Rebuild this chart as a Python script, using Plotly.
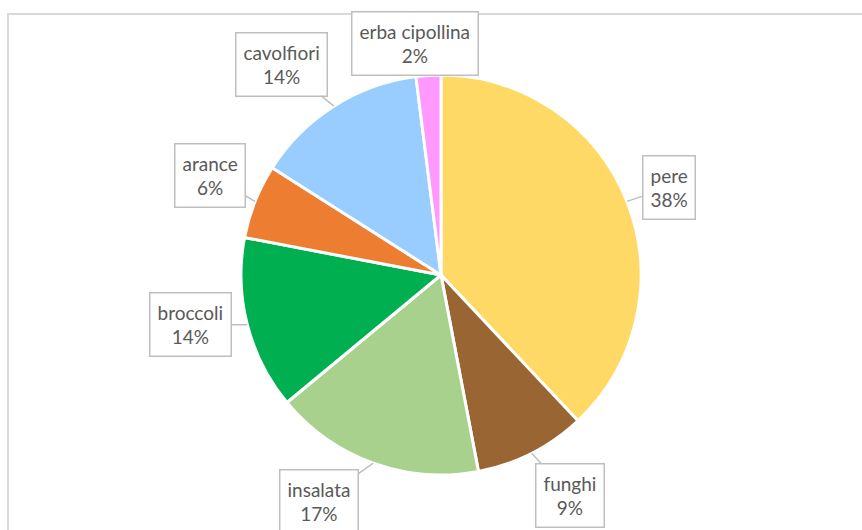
import math
import plotly.graph_objects as go

# Slice data (clockwise from 12 o'clock)
categories = ["pere", "funghi", "insalata", "broccoli", "arance", "cavolfiori", "erba cipollina"]
values = [38, 9, 17, 14, 6, 14, 2]
colors = ["#FFD966", "#996633", "#A9D18E", "#00B050", "#ED7D31", "#99CCFF", "#FF99FF"]

W, H = 862, 530
CX, CY, R = 441, 275, 200  # pie centre and radius in pixels

# Callout box offsets (pixels) from the slice edge point
offsets = {
    "pere": (42, -14),
    "funghi": (38, 42),
    "insalata": (-54, 38),
    "broccoli": (-57, 0),
    "arance": (-45, -26),
    "cavolfiori": (-52, -42),
    "erba cipollina": (-13, -32),
}

fig = go.Figure(
    go.Pie(
        labels=categories,
        values=values,
        sort=False,
        direction="clockwise",
        rotation=0,
        marker=dict(colors=colors, line=dict(color="white", width=3)),
        textinfo="none",
        hoverinfo="label+percent",
        showlegend=False,
        domain=dict(
            x=[(CX - R) / W, (CX + R) / W],
            y=[1 - (CY + R) / H, 1 - (CY - R) / H],
        ),
    )
)

total = sum(values)
annotations = []
cum = 0.0
for name, v in zip(categories, values):
    mid = (cum + v / 2) / total * 2 * math.pi
    cum += v
    px = CX + R * math.sin(mid)
    py = CY - R * math.cos(mid)
    ax, ay = offsets[name]
    pct = round(v / total * 100)
    annotations.append(
        dict(
            x=px / W,
            y=1 - py / H,
            xref="paper",
            yref="paper",
            text=f"{name}<br>{pct}%",
            showarrow=True,
            arrowhead=0,
            arrowwidth=1.5,
            arrowcolor="#BFBFBF",
            standoff=0,
            ax=ax,
            ay=ay,
            bordercolor="#BFBFBF",
            borderwidth=1.5,
            borderpad=7,
            bgcolor="white",
            font=dict(family="Lato", size=19, color="#595959"),
            align="center",
        )
    )

fig.update_layout(
    width=W,
    height=H,
    margin=dict(l=0, r=0, t=0, b=0),
    paper_bgcolor="white",
    plot_bgcolor="white",
    annotations=annotations,
    shapes=[
        dict(
            type="rect",
            xref="paper",
            yref="paper",
            x0=8 / W,
            x1=1.05,
            y0=-0.05,
            y1=1 - 14 / H,
            line=dict(color="#D9D9D9", width=2),
            fillcolor="rgba(0,0,0,0)",
            layer="below",
        )
    ],
)

fig.write_html("out.html")
